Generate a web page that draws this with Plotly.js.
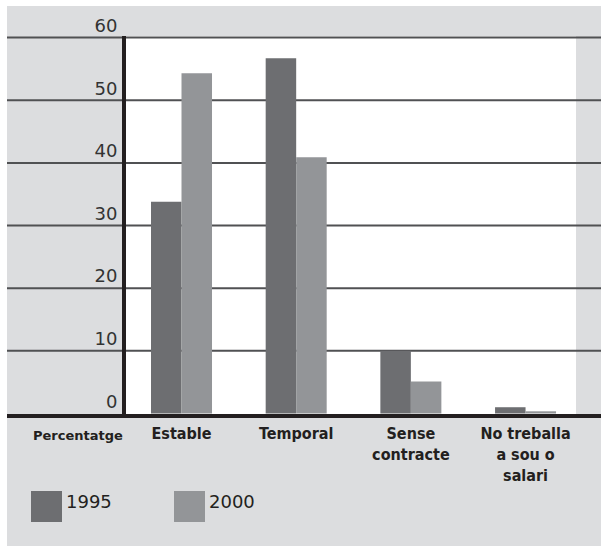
<!DOCTYPE html>
<html>
<head>
<meta charset="utf-8">
<script src="https://cdn.plot.ly/plotly-3.0.1.min.js"></script>
<style>
  html, body { margin: 0; padding: 0; background: #ffffff; width: 601px; height: 547px; overflow: hidden; }
  #chart { position: absolute; left: 7px; top: 6px; width: 594px; height: 540px; }
</style>
</head>
<body>
<div id="chart"></div>
<script>
// ---- data ----
const categories = ['Estable', 'Temporal', 'Sense<br>contracte', 'No treballa<br>a sou o<br>salari'];
const seriesNames = ['1995', '2000'];
const values1995 = [33.8, 56.7, 10.0, 1.0];
const values2000 = [54.3, 40.9, 5.1, 0.35];
const yTickVals = [0, 10, 20, 30, 40, 50, 60];
const yTickText = ['0', '10', '20', '30', '40', '50', '60'];
const axisLabel = 'Percentatge';

// ---- styles ----
const colors = ['#6d6e71', '#939598'];
const bgGray = '#dcdddf';
const ink = '#231f20';
const numFont = 'DejaVu Sans, Liberation Sans, Arial, sans-serif';
const catFont = 'DejaVu Sans Condensed, Liberation Sans Narrow, Arial Narrow, DejaVu Sans, sans-serif';

const seriesValues = [values1995, values2000];
const traces = seriesNames.map((name, i) => ({
  type: 'bar',
  name: name,
  x: categories,
  y: seriesValues[i],
  marker: { color: colors[i], line: { width: 0 } },
  hoverinfo: 'x+y+name'
}));

// gridlines spanning the whole panel
const shapes = yTickVals.filter(v => v !== 0).map(v => ({
  type: 'line', xref: 'paper', yref: 'y',
  x0: -0.3, x1: 1.1, y0: v, y1: v,
  line: { color: '#505153', width: 2 },
  layer: 'below'
}));
// thick baseline
shapes.push({
  type: 'line', xref: 'paper', yref: 'paper',
  x0: -0.3, x1: 1.1, y0: 0, y1: 0,
  line: { color: ink, width: 4 },
  layer: 'above'
});

// custom legend (large swatches)
const legendX = [-0.2111, 0.1067];
const swatchW = 0.0689;
const annotations = [];
seriesNames.forEach((name, i) => {
  shapes.push({
    type: 'rect', xref: 'paper', yref: 'paper',
    x0: legendX[i], x1: legendX[i] + swatchW, y0: -0.2789, y1: -0.1974,
    fillcolor: colors[i], line: { width: 0 }
  });
  annotations.push({
    xref: 'paper', yref: 'paper',
    x: legendX[i] + swatchW + 0.004, y: -0.2263,
    xanchor: 'left', yanchor: 'middle',
    text: name, showarrow: false,
    font: { family: numFont, size: 18, color: ink }
  });
});
annotations.push({
  xref: 'paper', yref: 'paper',
  x: -0.1067, y: -0.05,
  xanchor: 'center', yanchor: 'middle',
  text: '<b>' + axisLabel + '</b>', showarrow: false,
  font: { family: 'DejaVu Sans, Liberation Sans, Arial, sans-serif', size: 13, color: ink }
});

const layout = {
  width: 594, height: 540,
  margin: { l: 119, r: 25, t: 30, b: 130, pad: 0 },
  paper_bgcolor: bgGray,
  plot_bgcolor: '#ffffff',
  barmode: 'group',
  bargap: 0.468,
  bargroupgap: 0,
  showlegend: false,
  xaxis: {
    type: 'category',
    range: [-0.484, 3.44],
    showgrid: false, zeroline: false, showline: false,
    ticks: '',
    ticklabelstandoff: 6,
    tickfont: { family: catFont, size: 16, color: ink, weight: 'bold' },
    fixedrange: true
  },
  yaxis: {
    range: [-0.4, 60.25],
    tickvals: yTickVals,
    ticktext: yTickText,
    showgrid: false, zeroline: false,
    showline: true, linewidth: 4, linecolor: ink,
    ticks: '',
    ticklabelshift: -12,
    ticklabelstandoff: 1,
    tickfont: { family: numFont, size: 18, color: '#333333' },
    fixedrange: true
  },
  shapes: shapes,
  annotations: annotations,
  font: { family: numFont, color: ink }
};

Plotly.newPlot('chart', traces, layout, { displayModeBar: false, staticPlot: true });
</script>
</body>
</html>
